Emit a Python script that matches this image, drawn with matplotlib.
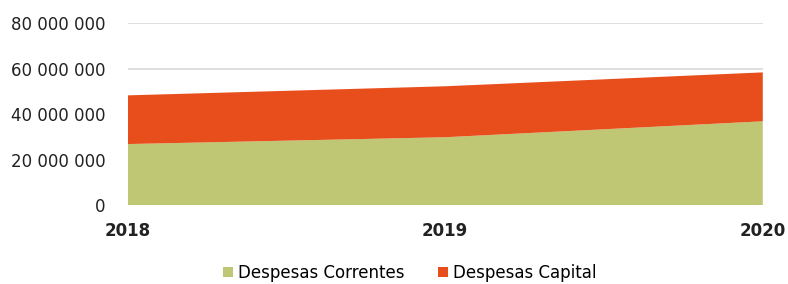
import numpy as np
import matplotlib.pyplot as plt
from matplotlib.ticker import FuncFormatter

# data
years = ['2018', '2019', '2020']
correntes = [26.8e6, 29.8e6, 36.8e6]
capital = [21.4e6, 22.4e6, 21.5e6]

green = '#c0c774'
orange = '#e84e1b'

fig = plt.figure(figsize=(7.88, 2.84), dpi=100)
ax = fig.add_axes([0.162, 0.278, 0.806, 0.641])

x = np.arange(len(years))
ax.stackplot(x, correntes, capital, colors=[green, orange],
             labels=['Despesas Correntes', 'Despesas Capital'], zorder=2)

ax.set_xlim(0, len(years) - 1)
ax.set_ylim(0, 80e6)
ax.set_yticks(np.arange(0, 80e6 + 1, 20e6))
ax.yaxis.set_major_formatter(FuncFormatter(lambda v, p: f'{int(v):,}'.replace(',', ' ')))
ax.set_xticks(x)
ax.set_xticklabels(years, fontweight='bold')

ax.grid(axis='y', color='#d9d9d9', linewidth=1.2, zorder=1)
for s in ax.spines.values():
    s.set_visible(False)
ax.tick_params(length=0, labelsize=12, colors='#222222')
ax.tick_params(axis='y', pad=16)
ax.tick_params(axis='x', pad=12)

fig.legend(loc='lower center', bbox_to_anchor=(0.52, -0.045), ncol=2, frameon=False,
           fontsize=12, handlelength=0.6, handleheight=0.6, handletextpad=0.3,
           columnspacing=2.0)

fig.savefig('out.png', dpi=100)
